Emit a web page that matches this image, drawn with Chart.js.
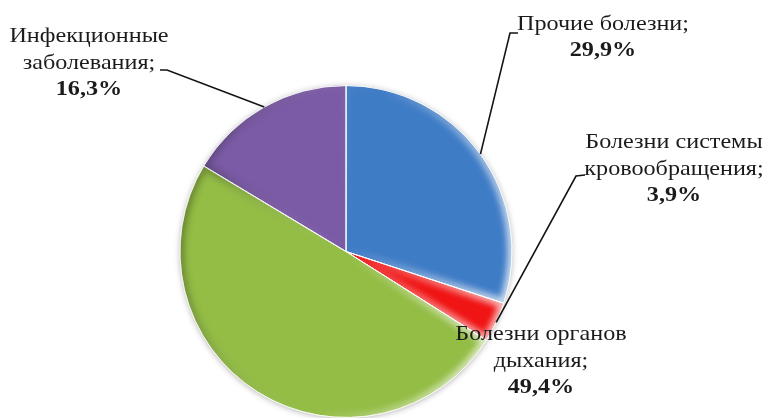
<!DOCTYPE html>
<html>
<head>
<meta charset="utf-8">
<script src="https://cdn.jsdelivr.net/npm/chart.js@4.4.1/dist/chart.umd.min.js"></script>
<style>
  html, body { margin: 0; padding: 0; background: #ffffff; }
  canvas { display: block; }
</style>
</head>
<body>
<canvas id="chart" width="765" height="418"></canvas>
<script>
// Структура заболеваемости по группам болезней, %
const categories = [
  ['Прочие болезни;'],
  ['Болезни системы', 'кровообращения;'],
  ['Болезни органов', 'дыхания;'],
  ['Инфекционные', 'заболевания;']
];
const shares = [29.9, 3.9, 49.4, 16.3];
const sliceColors = ['#3F7CC6', '#F01414', '#93BD45', '#7B5AA6'];

// Label blocks: centre x, centre y of the first line, and the leader's elbow points
const labelLayout = [
  { x: 603, y: 24,  leader: [[518, 33], [510, 33]] },
  { x: 674, y: 142, leader: [[585, 175], [576, 176]] },
  { x: 541, y: 334, leader: null },
  { x: 89,  y: 36,  leader: [[160, 70], [167, 70]] }
];
const LINE_STEP = 27;
const TEXT_FONT = '21px "Liberation Serif", "Times New Roman", serif';
const VALUE_FONT = 'bold 21px "Liberation Serif", "Times New Roman", serif';
const TEXT_STRETCH = 1.15;

function arcGeom(arc) {
  return arc.getProps(['x', 'y', 'startAngle', 'endAngle', 'outerRadius'], true);
}

function slicePath(ctx, g) {
  ctx.beginPath();
  ctx.moveTo(g.x, g.y);
  ctx.arc(g.x, g.y, g.outerRadius, g.startAngle, g.endAngle);
  ctx.closePath();
}

// soft shadow under the whole disc
const pieShadow = {
  id: 'pieShadow',
  beforeDatasetsDraw(chart) {
    const arc = chart.getDatasetMeta(0).data[0];
    if (!arc) return;
    const { x, y, outerRadius } = arcGeom(arc);
    const ctx = chart.ctx;
    ctx.save();
    ctx.shadowColor = 'rgba(0,0,0,0.4)';
    ctx.shadowBlur = 7;
    ctx.shadowOffsetY = 1;
    ctx.fillStyle = '#777';
    ctx.beginPath();
    ctx.arc(x, y, outerRadius - 1, 0, Math.PI * 2);
    ctx.fill();
    ctx.restore();
  }
};

// soft bevel on every slice: shaded on the left, glossy on the right
const sliceBevel = {
  id: 'sliceBevel',
  afterDatasetsDraw(chart) {
    const ctx = chart.ctx;
    chart.getDatasetMeta(0).data.forEach((arc) => {
      const g = arcGeom(arc);
      const r = g.outerRadius;
      ctx.save();
      slicePath(ctx, g);
      ctx.clip();
      const grad = ctx.createLinearGradient(g.x - r, g.y - r * 0.2, g.x + r, g.y + r * 0.2);
      grad.addColorStop(0, 'rgba(0,0,0,0.3)');
      grad.addColorStop(0.5, 'rgba(255,255,255,0.0)');
      grad.addColorStop(1, 'rgba(255,255,255,0.75)');
      ctx.filter = 'blur(3px)';
      ctx.strokeStyle = grad;
      ctx.lineWidth = 9;
      ctx.lineJoin = 'round';
      slicePath(ctx, g);
      ctx.stroke();
      ctx.restore();

      ctx.save();
      slicePath(ctx, g);
      ctx.strokeStyle = 'rgba(255,255,255,0.7)';
      ctx.lineWidth = 1;
      ctx.stroke();
      ctx.restore();
    });
  }
};

function drawStretched(ctx, text, cx, cy, font) {
  ctx.save();
  ctx.translate(cx, cy);
  ctx.scale(TEXT_STRETCH, 1);
  ctx.font = font;
  ctx.textAlign = 'center';
  ctx.textBaseline = 'middle';
  ctx.fillText(text, 0, 0);
  ctx.restore();
}

// category name + share beside each slice, with leader lines
const sliceLabels = {
  id: 'sliceLabels',
  afterDatasetsDraw(chart) {
    const ctx = chart.ctx;
    const meta = chart.getDatasetMeta(0);
    const values = chart.data.datasets[0].data;
    chart.data.labels.forEach((lines, i) => {
      const pos = labelLayout[i];
      const arc = meta.data[i];
      if (pos.leader && arc) {
        const { x, y, startAngle, endAngle, outerRadius } = arcGeom(arc);
        const mid = (startAngle + endAngle) / 2;
        ctx.save();
        ctx.strokeStyle = '#141414';
        ctx.lineWidth = 1.6;
        ctx.beginPath();
        ctx.moveTo(pos.leader[0][0], pos.leader[0][1]);
        ctx.lineTo(pos.leader[1][0], pos.leader[1][1]);
        ctx.lineTo(x + Math.cos(mid) * outerRadius, y + Math.sin(mid) * outerRadius);
        ctx.stroke();
        ctx.restore();
      }
      ctx.fillStyle = '#1b1b1b';
      lines.forEach((ln, k) => drawStretched(ctx, ln, pos.x, pos.y + k * LINE_STEP, TEXT_FONT));
      const valueText = values[i].toFixed(1).replace('.', ',') + '%';
      drawStretched(ctx, valueText, pos.x, pos.y + lines.length * LINE_STEP, VALUE_FONT);
    });
  }
};

new Chart(document.getElementById('chart'), {
  type: 'pie',
  data: {
    labels: categories,
    datasets: [{
      data: shares,
      backgroundColor: sliceColors,
      borderColor: 'rgba(255,255,255,0.7)',
      borderWidth: 1
    }]
  },
  options: {
    responsive: false,
    animation: false,
    layout: { padding: { top: 85, bottom: -1, left: 0, right: 73 } },
    plugins: {
      legend: { display: false },
      tooltip: { enabled: false }
    }
  },
  plugins: [pieShadow, sliceBevel, sliceLabels]
});
</script>
</body>
</html>
